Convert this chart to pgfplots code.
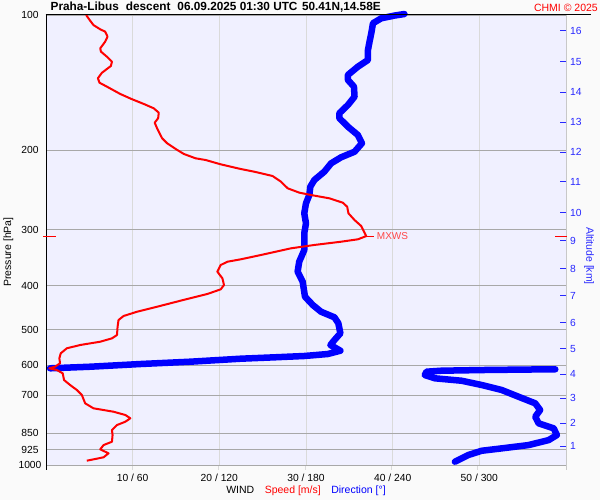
\documentclass[border=0pt]{standalone}
\usepackage{pgfplots}
\usepackage{pgfplotstable}
\pgfplotsset{compat=1.18}
\usepackage{fontspec}
\setmainfont{Liberation Sans}
\definecolor{plotbg}{RGB}{240,240,255}
\definecolor{hgrid}{RGB}{168,168,168}
\definecolor{vgrid}{RGB}{218,218,218}
\definecolor{pagebg}{RGB}{250,250,250}
\definecolor{altblue}{RGB}{40,40,255}
\definecolor{mxred}{RGB}{255,70,70}
\newcommand\tickfont{\fontsize{10.3bp}{12bp}\selectfont}
\newcommand\labfont{\fontsize{10.5bp}{12bp}\selectfont}

\pgfplotstableread{
s p
4.63 100
5.10 103.0
5.48 105.3
6.26 107.6
6.83 108.9
7.10 111.7
6.83 114.6
6.26 118.6
6.34 120.6
7.03 123.8
7.61 127.0
7.49 129.8
6.45 134.4
5.99 138.2
6.17 141.4
7.03 144.3
8.57 149.8
9.93 153.9
11.27 157.6
12.43 161.2
13.01 164.8
12.94 169.6
12.54 173.5
12.82 178.6
13.40 187.9
13.98 192.8
15.14 199.5
15.90 203.6
17.26 208.2
18.42 210.0
20.16 214.7
22.47 219.9
24.01 222.9
26.14 227.9
27.11 234.6
27.88 242.7
29.23 248.2
30.58 251.2
32.70 255.5
34.25 261.3
34.75 266.7
34.90 275.9
35.60 285.5
36.37 294.4
36.95 310.0
35.99 315.1
34.06 319.0
30.96 324.4
28.26 330.0
24.79 341.5
22.47 349.1
20.93 353.4
20.16 359.4
19.77 371.9
20.35 384.7
20.54 398.1
20.16 407.0
18.61 416.9
15.52 431.4
12.82 444.9
10.51 456.4
8.95 466.5
8.37 476.2
8.26 492.8
8.19 514.2
7.61 523.0
6.26 532.1
3.94 541.2
2.40 550.4
1.70 564.7
1.54 579.3
1.62 594.3
1.04 604.8
0.38 609.7
1.24 615.0
1.93 625.5
2.08 647.3
2.78 664.1
3.56 681.3
4.14 699.0
4.52 729.4
5.48 748.2
7.80 761.4
9.15 774.3
9.73 787.6
9.15 801.4
8.19 815.0
7.61 836.2
7.68 857.9
7.61 887.8
6.64 903.0
6.26 923.1
7.22 941.9
6.64 961.3
4.71 978.2
}\speeddata

\pgfplotstableread{
dir p
248.1 99.5
241.2 100.3
232.1 101.7
226.4 104.3
225.2 109.8
224.0 114.6
222.9 119.6
222.9 125.9
215.9 130.3
209.0 135.9
209.0 139.4
213.2 144.3
213.6 151.9
209.0 158.5
203.1 165.3
203.1 169.6
209.0 177.1
215.9 184.8
218.7 192.8
213.6 201.3
204.3 207.1
197.4 213.6
192.7 222.9
185.8 232.6
183.0 240.7
182.3 251.2
180.0 262.1
178.8 275.9
180.0 290.4
178.8 305.6
178.8 332.9
175.3 353.4
174.2 371.9
177.7 391.4
179.3 422.7
184.7 441.0
190.4 456.4
199.7 469.7
202.4 484.2
203.8 509.7
199.7 527.6
196.9 541.2
200.9 550.4
203.8 557.2
195.1 566.7
178.8 572.5
158.0 576.4
134.8 580.5
100.1 589.4
65.3 596.5
30.6 604.8
2.8 609.7
}\dirA

\pgfplotstableread{
dir p
352.6 612.8
334.1 613.5
303.9 615.0
273.8 617.2
263.4 620.4
262.2 631.0
269.2 641.7
287.7 649.7
301.6 664.1
315.5 681.3
327.1 705.1
338.7 729.4
342.1 754.8
338.7 781.2
341.0 807.8
351.5 829.0
353.7 857.9
348.0 880.2
334.1 903.0
315.5 918.4
301.6 929.7
292.4 950.1
283.1 983.3
}\dirB

\begin{document}
\begin{tikzpicture}[x=1bp,y=1bp]
\fill[pagebg] (0,0) rectangle (600,500);
\useasboundingbox (0,0) rectangle (600,500);
% grid extensions below the plot
\foreach \xx in {132.3,218.7,305.0,391.3,477.7}{\draw[vgrid,line width=1bp] (\xx,30) -- (\xx,35);}
\begin{axis}[
  at={(46bp,35bp)}, anchor=south west,
  scale only axis, width=520bp, height=450bp,
  xmin=0, xmax=60, ymin=100, ymax=1000,
  ymode=log, y dir=reverse, yminorticks=false,
  axis background/.style={fill=plotbg},
  axis line style={draw=none},
  clip=false,
  xtick={10,20,30,40,50},
  xticklabels={10 / 60, 20 / 120, 30 / 180, 40 / 240, 50 / 300},
  ytick={100,200,300,400,500,600,700,850,925,1000},
  yticklabels={100,200,300,400,500,600,700,850,925,1000},
  xmajorgrids, ymajorgrids,
  x grid style={vgrid, line width=1bp},
  y grid style={hgrid, line width=1bp},
  xtick style={draw=none}, ytick style={draw=none},
  xticklabel style={font=\tickfont, anchor=center, inner sep=0pt, yshift=-13bp},
  yticklabel style={font=\tickfont, anchor=center, inner sep=0pt, xshift=-16bp},
]
\addplot[blue, line width=6.5bp, line join=round, line cap=round] table[x expr=\thisrow{dir}/6, y=p] {\dirA};
\addplot[blue, line width=6.5bp, line join=round, line cap=round] table[x expr=\thisrow{dir}/6, y=p] {\dirB};
\addplot[red, line width=2bp, line join=round] table[x=s, y=p] {\speeddata};
\draw[red, line width=1bp] (axis cs:36.95,310) -- (axis cs:37.9,310)
  node[anchor=west, inner sep=0pt, xshift=2bp, text=mxred, font=\fontsize{10bp}{12bp}\selectfont] {MXWS};
\end{axis}
\begin{axis}[
  at={(46bp,35bp)}, anchor=south west,
  scale only axis, width=520bp, height=450bp,
  xmin=0, xmax=60, ymin=100, ymax=1000,
  ymode=log, y dir=reverse, yminorticks=false,
  axis x line=none, axis y line*=right, axis line style={draw=none},
  ytick={907.5,806.6,709.9,627.8,551.0,483.5,420.1,366.8,317.3,274.8,235.0,201.6,172.9,148.3,126.9,108.5},
  yticklabels={1,2,3,4,5,6,7,8,9,10,11,12,13,14,15,16},
  tick align=inside, major tick length=6bp,
  ytick style={altblue, line width=1bp},
  yticklabel style={font=\tickfont, text=altblue, anchor=west, inner sep=0pt, xshift=4bp},
]
\addplot[draw=none] coordinates {(0,500)};
\end{axis}
% frame
\draw[vgrid!80!gray, line width=1bp] (566,30) -- (566,485);
\draw[black, line width=1bp] (46,30) -- (46,485.5);
\draw[black, line width=1bp] (45.5,485) -- (591,485);
% MXWS side ticks
\draw[red, line width=1bp] (43,263.7) -- (56,263.7);
\draw[red, line width=1bp] (555,263.7) -- (567,263.7);
% texts
\node[anchor=west, inner sep=0pt, font=\bfseries\fontsize{11.8bp}{13bp}\selectfont] at (50.5,492.7)
  {Praha-Libus\hspace{7bp}descent\hspace{7bp}06.09.2025 01:30 UTC\hspace{4.5bp}50.41N,14.58E};
\node[anchor=east, inner sep=0pt, text=red, font=\labfont] at (598,492.5) {CHMI © 2025};
\node[rotate=90, inner sep=0pt, font=\labfont] at (8.5,248) {Pressure [hPa]};
\node[rotate=-90, inner sep=0pt, font=\labfont, text=altblue] at (589,244) {Altitude [km]};
\node[inner sep=0pt, font=\labfont] at (306,9) {WIND\hspace{10.5bp}\textcolor{red}{Speed [m/s]}\hspace{10.5bp}\textcolor{blue}{Direction [°]}};
\end{tikzpicture}
\end{document}
